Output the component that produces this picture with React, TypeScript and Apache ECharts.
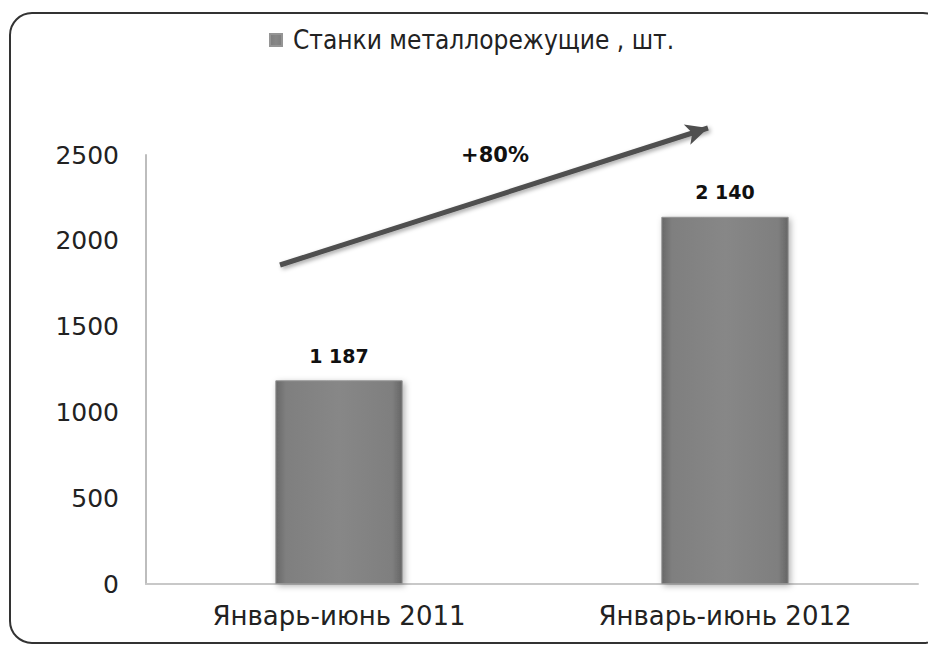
import React, { useEffect, useRef } from "react";
import * as echarts from "echarts";

const categories = ["Январь-июнь 2011", "Январь-июнь 2012"];
const values = [1187, 2140];
const valueLabels = ["1 187", "2 140"];
const seriesName = "Станки металлорежущие , шт.";
const growthLabel = "+80%";

export default function App() {
  const ref = useRef<HTMLDivElement>(null);
  useEffect(() => {
    if (!ref.current) return;
    const chart = echarts.init(ref.current, undefined, { renderer: "svg" });
    const font = "DejaVu Sans, Verdana, sans-serif";
    const condensed = "DejaVu Sans Condensed, DejaVu Sans, sans-serif";
    chart.setOption({
      animation: false,
      backgroundColor: "#ffffff",
      textStyle: { fontFamily: font },
      legend: {
        top: 22,
        left: 264,
        itemWidth: 12,
        itemHeight: 12,
        itemGap: 4,
        icon: "rect",
        textStyle: { fontSize: 26, color: "#222", fontFamily: condensed, padding: [0, 0, 0, 6] },
        data: [seriesName],
      },
      grid: { left: 146, right: 10, top: 155, bottom: 62 },
      xAxis: {
        type: "category",
        data: categories,
        axisLine: { lineStyle: { color: "#c8c8c8", width: 2 } },
        axisTick: { show: false },
        axisLabel: { fontSize: 26, color: "#222", margin: 19, fontFamily: font },
      },
      yAxis: {
        type: "value",
        min: 0,
        max: 2500,
        interval: 500,
        axisLine: { show: true, lineStyle: { color: "#bdbdbd", width: 2 } },
        axisTick: { show: false },
        splitLine: { show: false },
        axisLabel: {
          fontSize: 25,
          color: "#222",
          margin: 27,
          fontFamily: font,
          formatter: (v: number) => String(v),
        },
      },
      series: [
        {
          name: seriesName,
          type: "bar",
          data: values,
          barWidth: "33%",
          itemStyle: {
            color: new echarts.graphic.LinearGradient(0, 0, 1, 0, [
              { offset: 0, color: "#686868" },
              { offset: 0.08, color: "#7f7f7f" },
              { offset: 0.5, color: "#878787" },
              { offset: 0.92, color: "#7f7f7f" },
              { offset: 1, color: "#656565" },
            ]),
            borderColor: "#959595",
            borderWidth: 1,
            shadowColor: "rgba(0,0,0,0.3)",
            shadowBlur: 6,
            shadowOffsetX: 2,
            shadowOffsetY: 2,
          },
          label: {
            show: true,
            position: "top",
            distance: 15,
            fontSize: 19,
            fontWeight: "bold",
            color: "#111",
            fontFamily: font,
            formatter: (p: any) => valueLabels[p.dataIndex],
          },
          markLine: {
            silent: true,
            symbol: ["none", "arrow"],
            symbolSize: [16, 22],
            label: { show: false },
            lineStyle: {
              color: "#4f4f4f",
              width: 5,
              type: "solid",
              shadowColor: "rgba(0,0,0,0.35)",
              shadowBlur: 4,
              shadowOffsetX: 2,
              shadowOffsetY: 2,
            },
            data: [[{ x: 280, y: 265 }, { x: 708, y: 128 }]],
          },
        },
      ],
      graphic: [
        {
          type: "rect",
          shape: { x: 10, y: 13, width: 935, height: 630, r: 22 },
          style: { fill: "none", stroke: "#333", lineWidth: 2 },
          silent: true,
        },
        {
          type: "text",
          x: 495,
          y: 155,
          style: {
            text: growthLabel,
            fontSize: 21,
            fontWeight: "bold",
            fill: "#111",
            fontFamily: font,
            align: "center",
            verticalAlign: "middle",
          },
        },
      ],
    });
    return () => chart.dispose();
  }, []);
  return (
    <div
      ref={ref}
      style={{ position: "fixed", left: 0, top: 0, width: 928, height: 646 }}
    />
  );
}
